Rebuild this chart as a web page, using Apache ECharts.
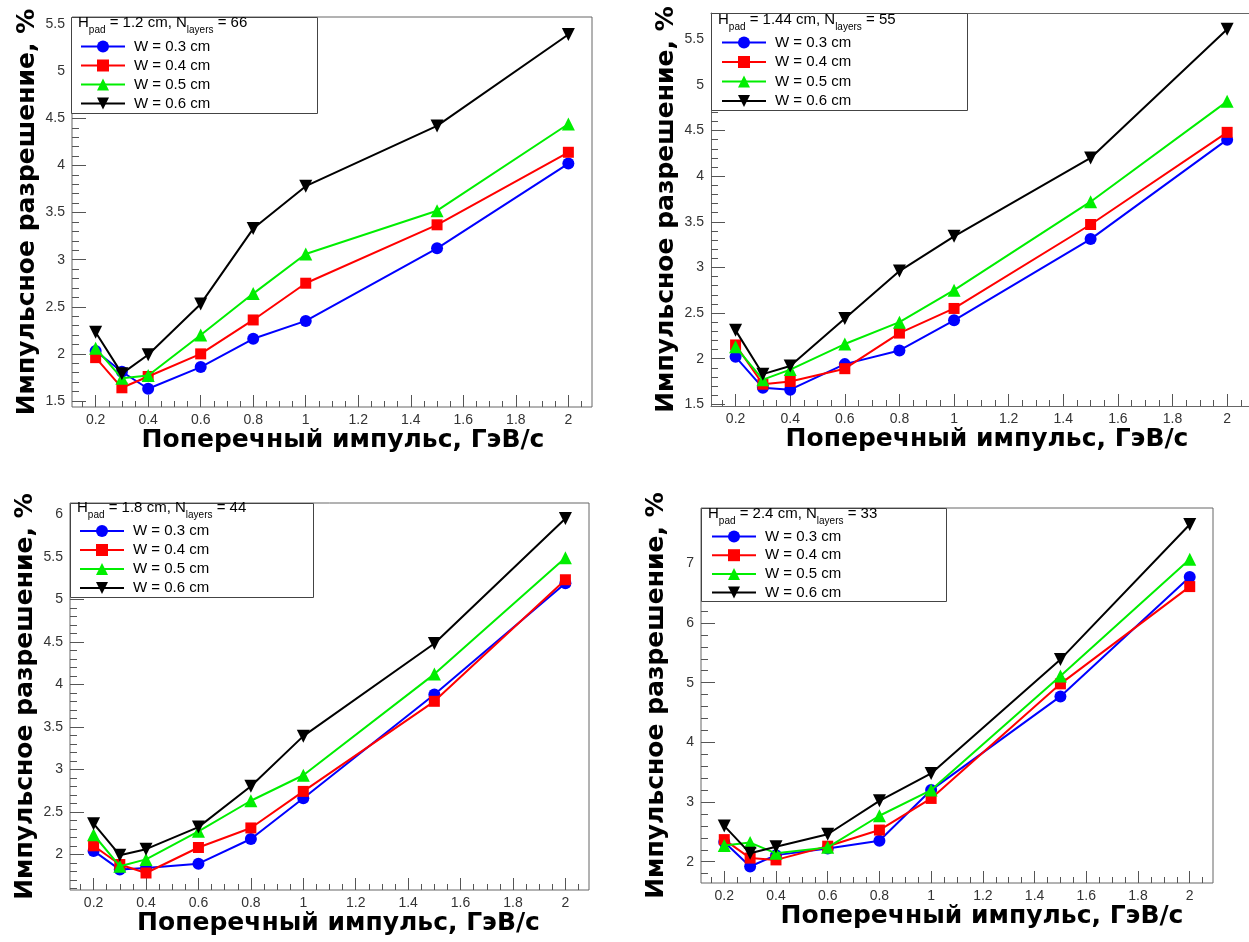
<!DOCTYPE html>
<html><head><meta charset="utf-8">
<script src="https://cdn.jsdelivr.net/npm/echarts@6/dist/echarts.min.js"></script>
<style>html,body{margin:0;padding:0;background:#fff}#c{width:1249px;height:942px}</style>
</head><body><div id="c"></div>
<script>
// ---- data ----
const pT = [0.2, 0.3, 0.4, 0.6, 0.8, 1.0, 1.5, 2.0];
const seriesNames = ['W = 0.3 cm', 'W = 0.4 cm', 'W = 0.5 cm', 'W = 0.6 cm'];
const headers = [
  ['1.2', '66'], ['1.44', '55'], ['1.8', '44'], ['2.4', '33']
];
// panel 1 : Hpad = 1.2 cm
const p1_w03 = [2.03, 1.81, 1.63, 1.86, 2.16, 2.35, 3.12, 4.02];
const p1_w04 = [1.96, 1.64, 1.76, 2.00, 2.36, 2.75, 3.37, 4.14];
const p1_w05 = [2.06, 1.74, 1.77, 2.20, 2.64, 3.06, 3.52, 4.44];
const p1_w06 = [2.23, 1.79, 1.99, 2.53, 3.33, 3.78, 4.42, 5.39];
// panel 2 : Hpad = 1.44 cm
const p2_w03 = [2.02, 1.68, 1.66, 1.94, 2.09, 2.42, 3.31, 4.40];
const p2_w04 = [2.15, 1.72, 1.75, 1.89, 2.28, 2.55, 3.47, 4.48];
const p2_w05 = [2.13, 1.77, 1.88, 2.16, 2.40, 2.75, 3.72, 4.82];
const p2_w06 = [2.31, 1.83, 1.92, 2.44, 2.96, 3.34, 4.20, 5.61];
// panel 3 : Hpad = 1.8 cm
const p3_w03 = [2.04, 1.82, 1.84, 1.89, 2.18, 2.66, 3.88, 5.19];
const p3_w04 = [2.10, 1.88, 1.78, 2.08, 2.31, 2.74, 3.80, 5.23];
const p3_w05 = [2.23, 1.86, 1.94, 2.27, 2.63, 2.93, 4.12, 5.49];
const p3_w06 = [2.36, 1.99, 2.06, 2.32, 2.80, 3.39, 4.48, 5.95];
// panel 4 : Hpad = 2.4 cm
const p4_w03 = [2.33, 1.92, 2.11, 2.22, 2.35, 3.20, 4.77, 6.77];
const p4_w04 = [2.37, 2.06, 2.03, 2.26, 2.53, 3.06, 4.98, 6.61];
const p4_w05 = [2.27, 2.32, 2.14, 2.24, 2.77, 3.20, 5.11, 7.07];
const p4_w06 = [2.60, 2.14, 2.25, 2.46, 3.02, 3.48, 5.39, 7.65];

const panelData = [
  [p1_w03, p1_w04, p1_w05, p1_w06],
  [p2_w03, p2_w04, p2_w05, p2_w06],
  [p3_w03, p3_w04, p3_w05, p3_w06],
  [p4_w03, p4_w04, p4_w05, p4_w06]
];
// tick labels
const xTicks = [0.2, 0.4, 0.6, 0.8, 1.0, 1.2, 1.4, 1.6, 1.8, 2.0];
const yTicks1 = [1.5, 2, 2.5, 3, 3.5, 4, 4.5, 5, 5.5];
const yTicks2 = [1.5, 2, 2.5, 3, 3.5, 4, 4.5, 5, 5.5];
const yTicks3 = [2, 2.5, 3, 3.5, 4, 4.5, 5, 5.5, 6];
const yTicks4 = [2, 3, 4, 5, 6, 7];
const xTitle = 'Поперечный импульс, ГэВ/с';
const yTitle = 'Импульсное разрешение, %';

// ---- layout / style ----
const panels = [
  {grid: {left: 72, top: 17, width: 520, height: 390}, x: [0.11, 2.09], y: [1.436, 5.576], yTicks: yTicks1, yMinorStep: 0.1,
   box: [71.5, 17.5, 246, 96], head: [78, 22.5], leg: [80, 39, 4], xPad: 22, border: true},
  {grid: {left: 711, top: 13, width: 538, height: 393}, x: [0.11, 2.08], y: [1.481, 5.788], yTicks: yTicks2, yMinorStep: 0.1,
   box: [711.5, 13.5, 256, 97], head: [718, 19.5], leg: [721, 35, 4.5], xPad: 14, border: false},
  {grid: {left: 70, top: 503, width: 519, height: 387}, x: [0.11, 2.09], y: [1.58, 6.133], yTicks: yTicks3, yMinorStep: 0.1,
   box: [70.5, 503.5, 243, 94], head: [77, 507.5], leg: [79, 523.5, 4], xPad: 18, border: true},
  {grid: {left: 701, top: 508, width: 512, height: 375}, x: [0.11, 2.09], y: [1.643, 7.927], yTicks: yTicks4, yMinorStep: 0.2,
   box: [701.5, 508.5, 245, 93], head: [708, 513.5], leg: [711, 529, 3.7], xPad: 50, border: true}
];
const colors = ['#0000ff', '#ff0000', '#00ee00', '#000000'];
const symbols = ['circle', 'rect', 'triangle', 'path://M0,0L10,0L5,9Z'];
const symSizes = [12, 11, 13, 13];

function minorList(lo, hi, step, majors) {
  const out = [];
  const n0 = Math.ceil(lo / step - 1e-9), n1 = Math.floor(hi / step + 1e-9);
  for (let n = n0; n <= n1; n++) {
    const v = +(n * step).toFixed(4);
    if (!majors.some(m => Math.abs(m - v) < 1e-6)) out.push(v);
  }
  return out;
}
const tickColor = '#555';
const frameColor = '#666';
const labelFont = 'Liberation Sans';
const titleStyle = {fontFamily: 'DejaVu Sans', fontWeight: 'bold', fontSize: 25, color: '#000'};

const option = {
  backgroundColor: '#fff',
  animation: false,
  grid: [], xAxis: [], yAxis: [], series: [], legend: [], graphic: []
};
const extraX = [];

panels.forEach((p, i) => {
  option.grid.push(Object.assign({show: p.border, borderColor: frameColor, borderWidth: 1, backgroundColor: 'transparent'}, p.grid));
  const xMinor = minorList(p.x[0], p.x[1], 0.05, xTicks);
  const yMinor = minorList(p.y[0], p.y[1], p.yMinorStep, p.yTicks);
  const frameLine = {show: !p.border, lineStyle: {color: frameColor, width: 1}};
  option.xAxis.push({
    gridIndex: i, type: 'value', position: 'bottom', min: p.x[0], max: p.x[1],
    axisLine: frameLine, splitLine: {show: false},
    axisTick: {inside: true, length: 12, customValues: xTicks, lineStyle: {color: tickColor}},
    axisLabel: {customValues: xTicks, fontSize: 14, color: '#333', margin: 6, fontFamily: labelFont},
    name: xTitle, nameLocation: 'middle', nameGap: 21,
    nameTextStyle: Object.assign({padding: [0, 0, 0, p.xPad]}, titleStyle)
  });
  option.xAxis.push({
    gridIndex: i, type: 'value', position: 'bottom', min: p.x[0], max: p.x[1],
    axisLine: {show: false}, splitLine: {show: false}, axisLabel: {show: false},
    axisTick: {inside: true, length: 6, customValues: xMinor, lineStyle: {color: tickColor}}
  });
  if (!p.border) {
    extraX.push({
      gridIndex: i, type: 'value', position: 'top', min: p.x[0], max: p.x[1],
      axisLine: frameLine, splitLine: {show: false}, axisLabel: {show: false}, axisTick: {show: false}
    });
  }
  option.yAxis.push({
    gridIndex: i, type: 'value', position: 'left', min: p.y[0], max: p.y[1],
    axisLine: frameLine, splitLine: {show: false},
    axisTick: {inside: true, length: 14, customValues: p.yTicks, lineStyle: {color: tickColor}},
    axisLabel: {customValues: p.yTicks, fontSize: 14, color: '#333', margin: 7, fontFamily: labelFont},
    name: yTitle, nameLocation: 'middle', nameRotate: 90, nameGap: 32,
    nameTextStyle: Object.assign({}, titleStyle)
  });
  option.yAxis.push({
    gridIndex: i, type: 'value', position: 'left', min: p.y[0], max: p.y[1],
    axisLine: {show: false}, splitLine: {show: false}, axisLabel: {show: false},
    axisTick: {inside: true, length: 7, customValues: yMinor, lineStyle: {color: tickColor}}
  });
  panelData[i].forEach((vals, k) => {
    option.series.push({
      type: 'line', name: seriesNames[k], xAxisIndex: 2 * i, yAxisIndex: 2 * i,
      data: pT.map((x, j) => [x, vals[j]]),
      symbol: symbols[k], symbolSize: symSizes[k],
      itemStyle: {color: colors[k]}, lineStyle: {color: colors[k], width: 2},
      z: 2 + k * 0.1
    });
  });
  option.legend.push({
    orient: 'vertical', left: p.leg[0], top: p.leg[1], padding: 0,
    itemWidth: 44, itemHeight: 15, itemGap: p.leg[2], selectedMode: false,
    textStyle: {fontSize: 15, fontFamily: labelFont, color: '#000', lineHeight: 15, padding: [0, 0, 0, 4]},
    data: seriesNames, z: 6
  });
  const b = p.box;
  option.graphic.push({
    type: 'rect', z: 5, shape: {x: b[0], y: b[1], width: b[2], height: b[3]},
    style: {fill: '#fff', stroke: '#444', lineWidth: 1}
  });
  option.graphic.push({
    type: 'text', z: 7, x: p.head[0], y: p.head[1],
    style: {
      text: '{m|H}{s|pad}{m| = ' + headers[i][0] + ' cm, N}{s|layers}{m| = ' + headers[i][1] + '}',
      verticalAlign: 'middle',
      rich: {
        m: {fontSize: 15, fontFamily: labelFont, lineHeight: 26, fill: '#000'},
        s: {fontSize: 10, fontFamily: labelFont, lineHeight: 11, padding: [15, 0, 0, 0], fill: '#000'}
      }
    }
  });
});
option.xAxis = option.xAxis.concat(extraX);

const chart = echarts.init(document.getElementById('c'), null, {renderer: 'canvas'});
chart.setOption(option);
</script>
</body></html>
